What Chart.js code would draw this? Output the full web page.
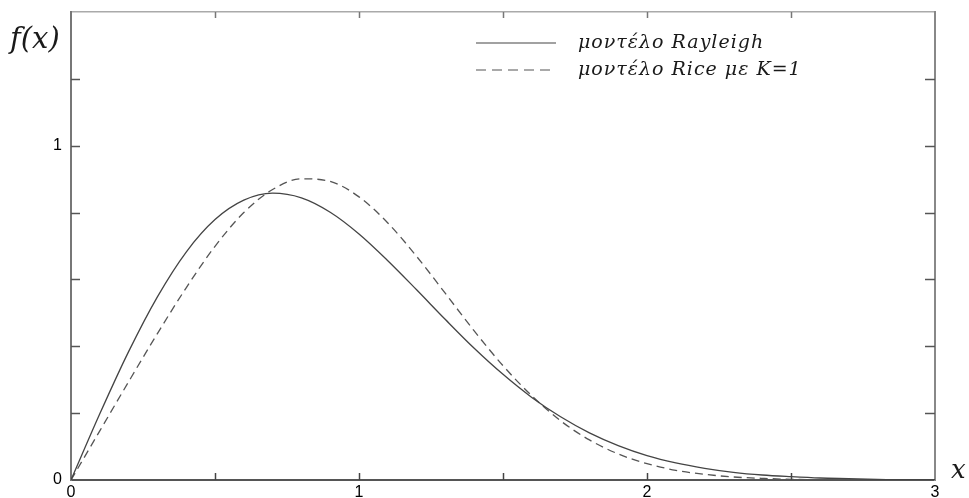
<!DOCTYPE html>
<html>
<head>
<meta charset="utf-8">
<script src="https://cdn.jsdelivr.net/npm/chart.js@4.4.0/dist/chart.umd.min.js"></script>
<style>
html, body { margin: 0; padding: 0; background: #fff; }
#wrap { width: 969px; height: 498px; }
</style>
</head>
<body>
<div id="wrap"><canvas id="chart"></canvas></div>
<script>
// values, x from 0 to 3 in steps of 0.1
const xValues = [0, 0.1, 0.2, 0.3, 0.4, 0.5, 0.6, 0.7, 0.8, 0.9, 1.0,
    1.1, 1.2, 1.3, 1.4, 1.5, 1.6, 1.7, 1.8, 1.9, 2.0,
    2.1, 2.2, 2.3, 2.4, 2.5, 2.6, 2.7, 2.8, 2.9, 3.0];
const rayleigh = [0, 0.198, 0.384, 0.548, 0.682, 0.779, 0.837, 0.858, 0.844, 0.801, 0.736,
    0.656, 0.569, 0.480, 0.394, 0.316, 0.247, 0.189, 0.141, 0.103, 0.073,
    0.051, 0.035, 0.023, 0.015, 0.010, 0.006, 0.004, 0.002, 0.001, 0.001];
const rice = [0, 0.147, 0.294, 0.438, 0.575, 0.699, 0.800, 0.869, 0.901, 0.893, 0.847,
    0.769, 0.669, 0.558, 0.446, 0.342, 0.252, 0.177, 0.120, 0.078, 0.049,
    0.029, 0.017, 0.009, 0.005, 0.002, 0.001, 0.001, 0, 0, 0];
const xTickLabels = ['0', '1', '2', '3'];
const yTickLabels = ['0', '1'];
const seriesNames = ['μοντέλο Rayleigh', 'μοντέλο Rice με K=1'];

function toPoints(ys) {
    return xValues.map((x, i) => ({ x: x, y: ys[i] }));
}

function noPad(s) {
    s.paddingTop = 0;
    s.paddingBottom = 0;
    s.paddingLeft = 0;
    s.paddingRight = 0;
}

// inward tick marks, axis names and the legend box
const extras = {
    id: 'extras',
    afterDraw(chart) {
        const ctx = chart.ctx;
        const a = chart.chartArea;
        const xs = chart.scales.x;
        const ys = chart.scales.y;
        ctx.save();

        xs.ticks.forEach(t => {
            if (t.value <= xs.min || t.value >= xs.max) return;
            const px = Math.round(xs.getPixelForValue(t.value)) + 0.5;
            ctx.strokeStyle = '#444';
            ctx.lineWidth = 1.5;
            ctx.beginPath(); ctx.moveTo(px, a.bottom); ctx.lineTo(px, a.bottom - 7); ctx.stroke();
            ctx.strokeStyle = '#777';
            ctx.beginPath(); ctx.moveTo(px, a.top); ctx.lineTo(px, a.top + 6); ctx.stroke();
        });
        ys.ticks.forEach(t => {
            if (t.value <= ys.min || t.value >= ys.max) return;
            const py = Math.round(ys.getPixelForValue(t.value)) + 0.5;
            ctx.strokeStyle = '#555';
            ctx.lineWidth = 1.5;
            ctx.beginPath(); ctx.moveTo(a.left, py); ctx.lineTo(a.left + 9, py); ctx.stroke();
            ctx.beginPath(); ctx.moveTo(a.right, py); ctx.lineTo(a.right - 10, py); ctx.stroke();
        });

        ctx.fillStyle = '#1a1a1a';
        ctx.textBaseline = 'middle';
        ctx.textAlign = 'left';
        ctx.font = 'italic 29px "DejaVu Serif"';
        ctx.fillText('f(x)', 10, 40);
        ctx.font = 'italic 26px "DejaVu Serif"';
        ctx.fillText('x', 951, 471);

        const rows = [43, 70];
        chart.data.datasets.forEach((ds, i) => {
            ctx.strokeStyle = ds.borderColor;
            ctx.lineWidth = 1.2;
            ctx.setLineDash(ds.borderDash ? [10, 6] : []);
            ctx.beginPath(); ctx.moveTo(476, rows[i]); ctx.lineTo(556, rows[i]); ctx.stroke();
            ctx.setLineDash([]);
            ctx.fillStyle = '#1a1a1a';
            ctx.font = 'italic 19px "DejaVu Serif"';
            ctx.letterSpacing = '1px';
            ctx.textBaseline = 'alphabetic';
            ctx.fillText(ds.label, 578, rows[i] + 5);
            ctx.letterSpacing = '0px';
        });
        ctx.restore();
    }
};

const chart = document.getElementById('chart');

new Chart(chart, {
    type: 'line',
    data: {
        datasets: [{
            label: seriesNames[0],
            data: toPoints(rayleigh),
            borderColor: '#444',
            borderWidth: 1.3,
            pointRadius: 0,
            cubicInterpolationMode: 'monotone',
            fill: false
        }, {
            label: seriesNames[1],
            data: toPoints(rice),
            borderColor: '#555',
            borderWidth: 1.3,
            borderDash: [8, 5],
            pointRadius: 0,
            cubicInterpolationMode: 'monotone',
            fill: false
        }]
    },
    options: {
        responsive: true,
        maintainAspectRatio: false,
        animation: false,
        layout: { padding: 0 },
        plugins: {
            legend: { display: false },
            tooltip: { enabled: false }
        },
        scales: {
            x: {
                type: 'linear',
                position: 'bottom',
                min: 0,
                max: 3,
                grid: { display: false, drawTicks: false },
                border: { display: true, color: '#555', width: 2 },
                ticks: {
                    stepSize: 0.5,
                    padding: 3,
                    color: '#000',
                    maxRotation: 0,
                    font: { family: 'Liberation Sans', size: 16 },
                    callback: v => {
                        const i = xTickLabels.indexOf(String(v));
                        return i >= 0 ? xTickLabels[i] : '';
                    }
                },
                afterFit: s => { s.height = 18; noPad(s); }
            },
            x2: {
                type: 'linear',
                position: 'top',
                min: 0,
                max: 3,
                grid: { display: false, drawTicks: false },
                border: { display: true, color: '#aaa', width: 1.5 },
                ticks: { display: false },
                afterFit: s => { s.height = 12; noPad(s); }
            },
            y: {
                type: 'linear',
                position: 'left',
                min: 0,
                max: 1.4,
                grid: { display: false, drawTicks: false },
                border: { display: true, color: '#777', width: 2 },
                ticks: {
                    stepSize: 0.2,
                    padding: 9,
                    color: '#000',
                    font: { family: 'Liberation Sans', size: 16 },
                    callback: v => {
                        const i = yTickLabels.indexOf(String(Math.round(v * 1000) / 1000));
                        return i >= 0 ? yTickLabels[i] : '';
                    }
                },
                afterFit: s => { s.width = 71; noPad(s); }
            },
            y2: {
                type: 'linear',
                position: 'right',
                min: 0,
                max: 1.4,
                grid: { display: false, drawTicks: false },
                border: { display: true, color: '#888', width: 2 },
                ticks: { display: false },
                afterFit: s => { s.width = 34; noPad(s); }
            }
        }
    },
    plugins: [extras]
});
</script>
</body>
</html>
